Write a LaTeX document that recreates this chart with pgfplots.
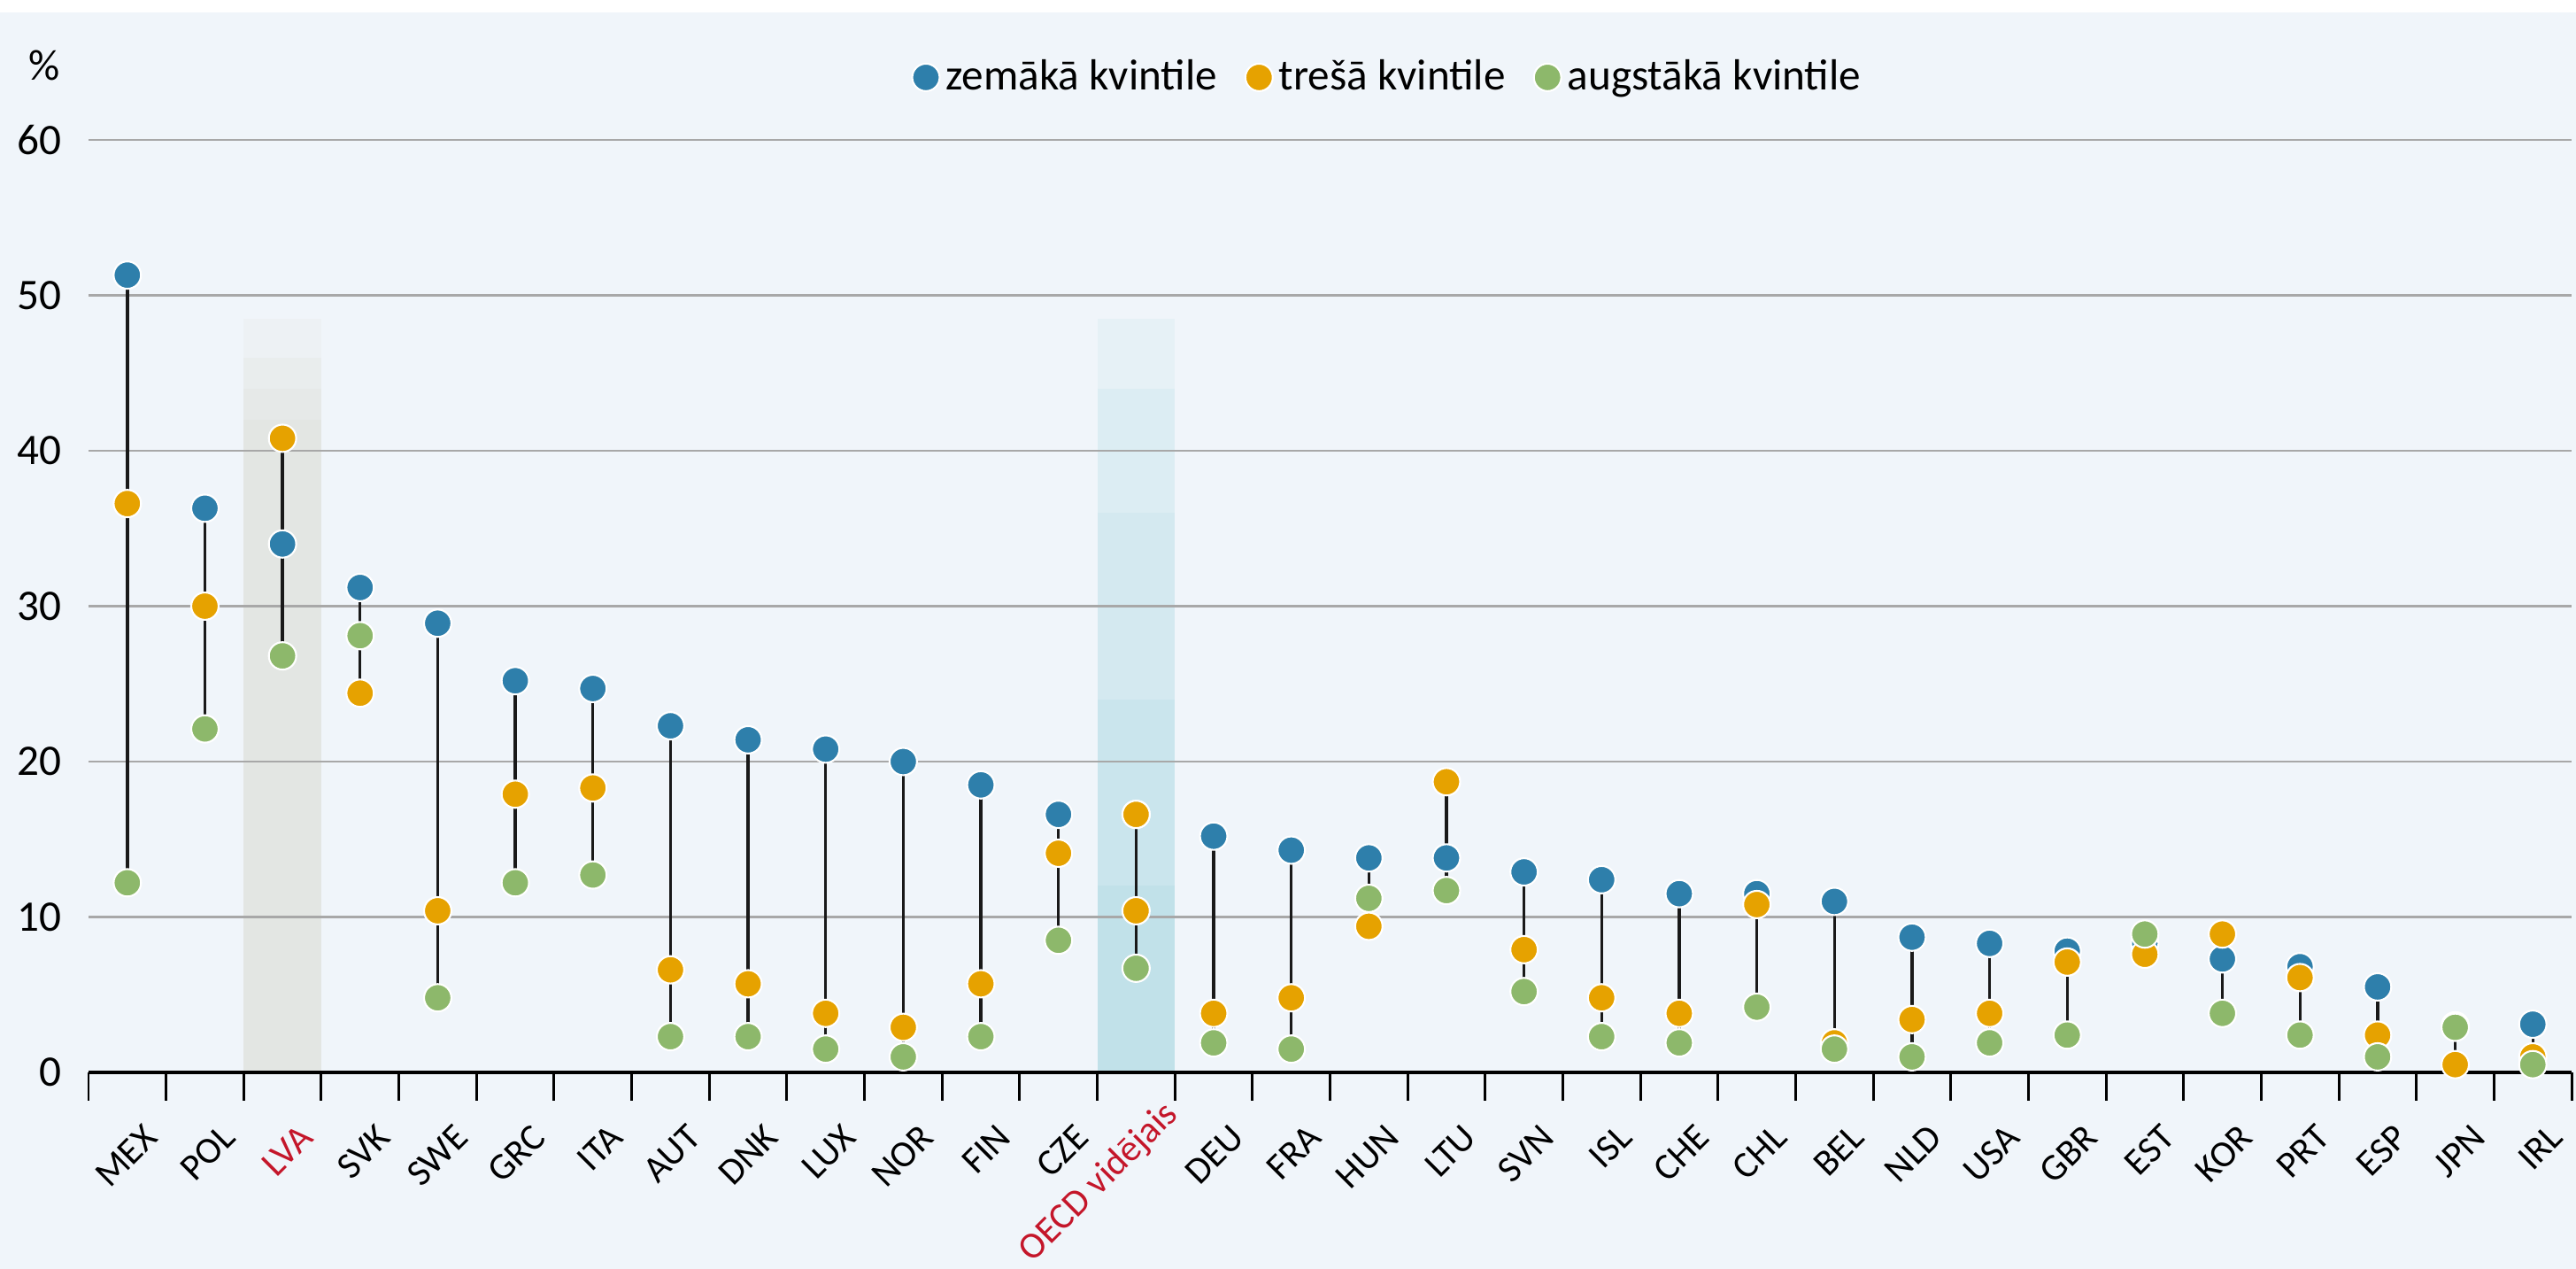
\documentclass[border=0pt]{standalone}
\usepackage{pgfplots}
\usepackage{pgfplotstable}
\pgfplotsset{compat=1.18}
\usepackage{fontspec}
\setmainfont{Carlito}
\definecolor{bg}{RGB}{240,245,250}
\definecolor{cblue}{RGB}{46,127,171}
\definecolor{corange}{RGB}{230,162,0}
\definecolor{cgreen}{RGB}{141,184,107}
\definecolor{cgrid}{RGB}{168,168,168}
\definecolor{cred}{RGB}{196,22,42}
\definecolor{lvaband}{RGB}{227,230,227}
\definecolor{oecdband}{RGB}{193,225,233}
\definecolor{oecdtop}{RGB}{220,237,243}

\pgfplotstableread{
x  blue orange green lo   hi
0  51.3 36.6 12.2  12.2 51.3
1  36.3 30.0 22.1  22.1 36.3
2  34.0 40.8 26.8  26.8 40.8
3  31.2 24.4 28.1  24.4 31.2
4  28.9 10.4 4.8   4.8  28.9
5  25.2 17.9 12.2  12.2 25.2
6  24.7 18.3 12.7  12.7 24.7
7  22.3 6.6  2.3   2.3  22.3
8  21.4 5.7  2.3   2.3  21.4
9  20.8 3.8  1.5   1.5  20.8
10 20.0 2.9  1.0   1.0  20.0
11 18.5 5.7  2.3   2.3  18.5
12 16.6 14.1 8.5   8.5  16.6
13 16.6 10.4 6.7   6.7  16.6
14 15.2 3.8  1.9   1.9  15.2
15 14.3 4.8  1.5   1.5  14.3
16 13.8 9.4  11.2  9.4  13.8
17 13.8 18.7 11.7  11.7 18.7
18 12.9 7.9  5.2   5.2  12.9
19 12.4 4.8  2.3   2.3  12.4
20 11.5 3.8  1.9   1.9  11.5
21 11.5 10.8 4.2   4.2  11.5
22 11.0 1.9  1.5   1.5  11.0
23 8.7  3.4  1.0   1.0  8.7
24 8.3  3.8  1.9   1.9  8.3
25 7.8  7.1  2.4   2.4  7.8
26 8.3  7.6  8.9   7.6  8.9
27 7.3  8.9  3.8   3.8  8.9
28 6.8  6.1  2.4   2.4  6.8
29 5.5  2.4  1.0   1.0  5.5
30 3.0  0.5  2.9   0.5  3.0
31 3.1  1.0  0.5   0.5  3.1
}\data

\pgfplotsset{geom/.style={
  scale only axis,
  width=28.05cm, height=10.53cm,
  at={(1.00cm,2.22cm)}, anchor=south west,
  xmin=-0.5, xmax=31.5, ymin=0, ymax=60}}

\begin{document}
\begin{tikzpicture}
\useasboundingbox (0,0) rectangle (29.1cm,14.33cm);
\fill[bg] (0,0) rectangle (29.1cm,14.33cm);
\fill[white] (0,14.19cm) rectangle (29.1cm,14.33cm);
% background axis: highlight bands
\begin{axis}[geom, hide axis]
\addplot[draw=none, fill=lvaband] coordinates {(1.5,0) (1.5,42) (2.5,42) (2.5,0)};
\addplot[draw=none, fill=lvaband!80!bg] coordinates {(1.5,42) (1.5,44) (2.5,44) (2.5,42)};
\addplot[draw=none, fill=lvaband!55!bg] coordinates {(1.5,44) (1.5,46) (2.5,46) (2.5,44)};
\addplot[draw=none, fill=lvaband!25!bg] coordinates {(1.5,46) (1.5,48.5) (2.5,48.5) (2.5,46)};
\addplot[draw=none, fill=oecdband] coordinates {(12.5,0) (12.5,12) (13.5,12) (13.5,0)};
\addplot[draw=none, fill=oecdband!65!oecdtop] coordinates {(12.5,12) (12.5,24) (13.5,24) (13.5,12)};
\addplot[draw=none, fill=oecdband!30!oecdtop] coordinates {(12.5,24) (12.5,36) (13.5,36) (13.5,24)};
\addplot[draw=none, fill=oecdtop] coordinates {(12.5,36) (12.5,44) (13.5,44) (13.5,36)};
\addplot[draw=none, fill=oecdtop!50!bg] coordinates {(12.5,44) (12.5,48.5) (13.5,48.5) (13.5,44)};
\end{axis}
\begin{axis}[
  geom,
  axis lines*=left,
  y axis line style={draw=none},
  x axis line style={black, line width=1.1pt},
  ytick={0,10,...,60},
  ymajorgrids,
  grid style={cgrid, line width=0.8pt},
  ytick style={draw=none},
  yticklabel style={anchor=east, inner sep=0pt, xshift=-0.30cm, font=\fontsize{14}{16}\selectfont},
  /pgf/number format/assume math mode=true,
  xtick={0,...,31},
  major x tick style={draw=none},
  major tick length=0pt,
  minor xtick={-0.5,0.5,...,31.5},
  minor x tick style={black, line width=0.85pt},
  minor tick length=0.32cm,
  tick align=outside,
  xticklabels={MEX,POL,\textcolor{cred}{LVA},SVK,SWE,GRC,ITA,AUT,DNK,LUX,NOR,FIN,CZE,{\textcolor{cred}{\raisebox{0.12cm}[\height][\depth]{OECD vidējais}}\hspace*{-0.28cm}},DEU,FRA,HUN,LTU,SVN,ISL,CHE,CHL,BEL,NLD,USA,GBR,EST,KOR,PRT,ESP,JPN,IRL},
  xticklabel style={xshift=0.17cm, yshift=-0.56cm, rotate=45, anchor=north east, inner sep=0pt, font=\fontsize{12}{14}\selectfont},
  legend columns=3,
  legend style={draw=none, fill=none, font=\fontsize{14}{16}\selectfont,
    at={(0.524,1.067)}, anchor=center,
    /tikz/every even column/.append style={column sep=0.25cm}},
  legend cell align=left,
  mark size=4.4pt,
  clip=false,
]
% connecting lines
\addplot[draw=none, mark=none, forget plot,
  error bars/.cd, y dir=plus, y explicit, error mark=none,
  error bar style={color=black!90, line width=0.95pt}]
  table[x=x, y=lo, y error expr=\thisrow{hi}-\thisrow{lo}] {\data};
% markers
\addplot[only marks, mark=*, mark options={fill=cblue, draw=white, line width=0.6pt}] table[x=x, y=blue] {\data};
\addlegendentry{zemākā kvintile}
\addplot[only marks, mark=*, mark options={fill=corange, draw=white, line width=0.6pt}] table[x=x, y=orange] {\data};
\addlegendentry{trešā kvintile}
\addplot[only marks, mark=*, mark options={fill=corange, draw=white, line width=0.6pt}, forget plot] coordinates {(13,16.6)};
\addplot[only marks, mark=*, mark options={fill=cgreen, draw=white, line width=0.6pt}] table[x=x, y=green] {\data};
\addlegendentry{augstākā kvintile}
\node[font=\fontsize{14}{16}\selectfont] at (rel axis cs:-0.0178,1.08) {\%};
\end{axis}
\end{tikzpicture}
\end{document}
